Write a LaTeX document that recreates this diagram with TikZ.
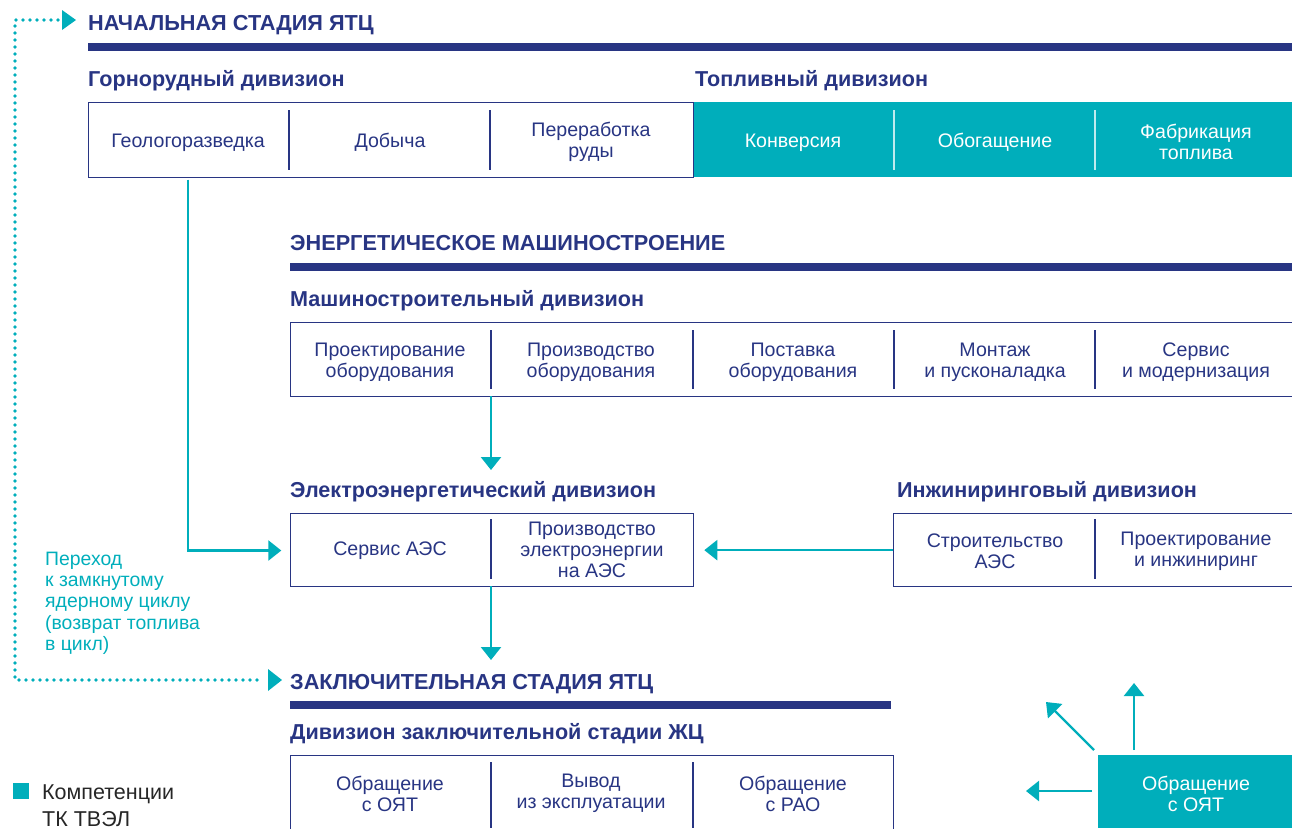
\documentclass[tikz,border=0pt]{standalone}
\usepackage{fontspec}
\setmainfont{Liberation Sans}
\usetikzlibrary{arrows.meta,calc}
\definecolor{navy}{HTML}{283583}
\definecolor{tq}{HTML}{00AEBB}
\begin{document}
\begin{tikzpicture}[x=1pt,y=-1pt,
  head/.style={font=\bfseries\fontsize{21.7}{26}\selectfont, text=navy, anchor=base west, inner sep=0pt},
  sub/.style={font=\bfseries\fontsize{21.6}{26}\selectfont, text=navy, anchor=base west, inner sep=0pt},
  cell/.style={minimum width=200pt, minimum height=74pt, inner sep=0pt, align=center, text=navy, font=\fontsize{19.6}{21}\selectfont},
  wcell/.style={cell, text=white},
  frame/.style={draw=navy, line width=1.3pt, anchor=north west, inner sep=0pt},
  tqbox/.style={fill=tq, anchor=north west, inner sep=0pt},
  divl/.style={draw=navy, line width=1.3pt},
  wdivl/.style={draw=white!75!tq, line width=1.3pt},
  flow/.style={draw=tq, line width=2.4pt, -{Triangle[width=20pt,length=13pt]}},
  dots/.style={draw=tq, line width=3.6pt, dash pattern=on 0pt off 7pt, line cap=round},
  note/.style={font=\fontsize{19.4}{21.2}\selectfont, text=tq, align=left, anchor=north west, inner sep=0pt},
  legend/.style={font=\fontsize{21.5}{26}\selectfont, text=black!85, anchor=base west, inner sep=0pt}
]
\useasboundingbox (0,0) rectangle (1292,828);

% ---------- Initial stage ----------
\node[head] (h1) at (88,30) {НАЧАЛЬНАЯ СТАДИЯ ЯТЦ};
\fill[navy] (88,43) rectangle (1292,51);
\node[sub] (gdiv) at (88,86) {Горнорудный дивизион};
\node[sub] (tdiv) at (695,86) {Топливный дивизион};

\node[tqbox, minimum width=599pt, minimum height=75pt] (tbox) at (693,102) {};
\node[frame, minimum width=605pt, minimum height=75pt] (gbox) at (88,102) {};
\draw[divl] (289,110) -- (289,170);
\draw[divl] (490,110) -- (490,170);
\draw[wdivl] (894,110) -- (894,170);
\draw[wdivl] (1095,110) -- (1095,170);
\node[cell] (geo) at (188,142.5) {Геологоразведка};
\node[cell] (dob) at (390,142.5) {Добыча};
\node[cell] (per) at (591,142) {Переработка\\руды};
\node[wcell] (konv) at (793,142.5) {Конверсия};
\node[wcell] (obog) at (995,142.5) {Обогащение};
\node[wcell] (fab) at (1196,142) {Фабрикация\\топлива};

% ---------- Power machine building ----------
\node[head] (h2) at (290,250) {ЭНЕРГЕТИЧЕСКОЕ МАШИНОСТРОЕНИЕ};
\fill[navy] (290,263) rectangle (1292,271);
\node[sub] (mdiv) at (290,306) {Машиностроительный дивизион};
\node[frame, minimum width=1002pt, minimum height=74pt] (mbox) at (290,322) {};
\draw[divl] (491,330) -- (491,389);
\draw[divl] (693,330) -- (693,389);
\draw[divl] (894,330) -- (894,389);
\draw[divl] (1095,330) -- (1095,389);
\node[cell] (m1) at (390,362.5) {Проектирование\\оборудования};
\node[cell] (m2) at (591,362.5) {Производство\\оборудования};
\node[cell] (m3) at (793,362.5) {Поставка\\оборудования};
\node[cell] (m4) at (995,362.5) {Монтаж\\и пусконаладка};
\node[cell] (m5) at (1196,362.5) {Сервис\\и модернизация};

% ---------- Electric power division ----------
\node[sub] (ediv) at (290,497) {Электроэнергетический дивизион};
\node[frame, minimum width=403pt, minimum height=73pt] (ebox) at (290,513) {};
\draw[divl] (491,519) -- (491,579);
\node[cell, minimum width=201pt, minimum height=73pt] (sa) at (390,550.5) {Сервис АЭС};
\node[cell, minimum width=201pt, minimum height=73pt] (pe) at (592,550) {Производство\\электроэнергии\\на АЭС};

% ---------- Engineering division ----------
\node[sub] (idiv) at (897,497) {Инжиниринговый дивизион};
\node[frame, minimum width=399pt, minimum height=73pt] (ibox) at (893,513) {};
\draw[divl] (1095,519) -- (1095,579);
\node[cell] (st) at (995,551) {Строительство\\АЭС};
\node[cell] (pi) at (1196,551) {Проектирование\\и инжиниринг};

% ---------- Back end ----------
\node[head] (h3) at (290,689) {ЗАКЛЮЧИТЕЛЬНАЯ СТАДИЯ ЯТЦ};
\fill[navy] (290,701) rectangle (891,709);
\node[sub] (zdiv) at (290,739) {Дивизион заключительной стадии ЖЦ};
\node[frame, minimum width=603pt, minimum height=80pt] (zbox) at (290,755) {};
\draw[divl] (491,762) -- (491,828);
\draw[divl] (693,762) -- (693,828);
\node[cell, minimum height=60pt] (z1) at (390,793.5) {Обращение\\с ОЯТ};
\node[cell, minimum height=60pt] (z2) at (591,793.5) {Вывод\\из эксплуатации};
\node[cell, minimum height=60pt] (z3) at (793,793.5) {Обращение\\с РАО};

\node[tqbox, minimum width=194pt, minimum height=73pt] (obox) at (1098,755) {};
\node[wcell, minimum width=194pt, minimum height=60pt] (oyt) at (1196,793.5) {Обращение\\с ОЯТ};

% ---------- Connectors ----------
\draw[flow, shorten >=8pt] (geo.south) |- (sa.west);
\coordinate (a1s) at (491,396);
\coordinate (a1e) at (491,470);
\draw[flow] (a1s) -- (a1e);
\coordinate (a2s) at (491,586);
\coordinate (a2e) at (491,660);
\draw[flow] (a2s) -- (a2e);
\draw[flow, shorten >=10pt] (ibox.west) -- (ebox.east);

\coordinate (up1) at (1134,750);
\coordinate (up2) at (1134,683);
\draw[flow] (up1) -- (up2);
\coordinate (dg1) at (1094,750);
\coordinate (dg2) at (1046,702);
\draw[flow] (dg1) -- (dg2);
\coordinate (lf1) at (1092,791);
\coordinate (lf2) at (1026,791);
\draw[flow] (lf1) -- (lf2);

% dotted return loop
\coordinate (dC) at (15,20);
\draw[dots] (58,20) -- (dC) -- (15,680) -- (264,680);
\fill[tq] (62,10) -- (76,20) -- (62,30) -- cycle;
\fill[tq] (268,669) -- (282,680) -- (268,691) -- cycle;

\node[note] (nt) at (45,552) {Переход\\к замкнутому\\ядерному циклу\\(возврат топлива\\в цикл)};

% legend
\fill[tq] (13,783) rectangle (29,799);
\node[legend] (lg1) at (42,799) {Компетенции};
\node[legend] (lg2) at (42,826) {ТК ТВЭЛ};
\end{tikzpicture}
\end{document}
